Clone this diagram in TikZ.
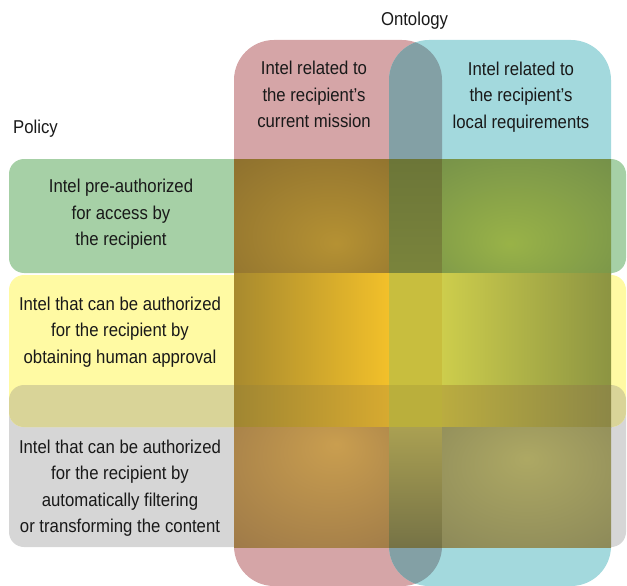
\documentclass[tikz,border=0pt]{standalone}
\usepackage{fontspec}
\setmainfont[FakeStretch=0.9]{Liberation Sans}
\definecolor{colred}{RGB}{213,165,167}
\definecolor{colteal}{RGB}{163,217,221}
\definecolor{colRT}{RGB}{131,160,165}
\definecolor{colgreen}{RGB}{166,208,166}
\definecolor{colyellow}{RGB}{255,250,163}
\definecolor{colgray}{RGB}{214,214,214}
\definecolor{colYG}{RGB}{217,212,152}
\definecolor{txt}{RGB}{25,25,25}
\definecolor{cBGt}{RGB}{108,118,56}
\definecolor{cBGb}{RGB}{122,132,60}
\definecolor{cAYl}{RGB}{168,138,46}
\definecolor{cAYr}{RGB}{242,192,42}
\definecolor{cBY}{RGB}{200,190,62}
\definecolor{cCYl}{RGB}{205,205,76}
\definecolor{cCYr}{RGB}{140,148,66}
\definecolor{cAYGl}{RGB}{160,134,50}
\definecolor{cAYGr}{RGB}{215,170,48}
\definecolor{cBYG}{RGB}{186,175,60}
\definecolor{cCYGl}{RGB}{186,172,64}
\definecolor{cCYGr}{RGB}{140,135,70}
\definecolor{cBGrt}{RGB}{170,160,82}
\definecolor{cBGrb}{RGB}{118,115,70}
% radial shadings for overlap cells
\pgfdeclareradialshading{shAG}{\pgfpoint{8bp}{-12bp}}{rgb(0bp)=(0.71,0.57,0.20); rgb(50bp)=(0.53,0.42,0.18); rgb(80bp)=(0.51,0.40,0.17)}
\pgfdeclareradialshading{shCG}{\pgfpoint{-5bp}{-12bp}}{rgb(0bp)=(0.60,0.70,0.28); rgb(50bp)=(0.43,0.54,0.29); rgb(80bp)=(0.41,0.52,0.29)}
\pgfdeclareradialshading{shAGr}{\pgfpoint{8bp}{18bp}}{rgb(0bp)=(0.79,0.62,0.31); rgb(50bp)=(0.60,0.46,0.28); rgb(80bp)=(0.57,0.44,0.27)}
\pgfdeclareradialshading{shCGr}{\pgfpoint{0bp}{12bp}}{rgb(0bp)=(0.68,0.66,0.39); rgb(50bp)=(0.52,0.51,0.34); rgb(80bp)=(0.50,0.49,0.33)}
\tikzset{
  col/.style={rounded corners=40pt},
  bar/.style={rounded corners=15pt},
  lbl/.style={text=txt, align=center, inner sep=0pt, font=\fontsize{18.6}{26.5}\selectfont},
}
\begin{document}
\begin{tikzpicture}[x=1pt,y=-1pt]
\useasboundingbox (0,0) rectangle (627,586);
% columns
\fill[colred, col] (234,40) rectangle (442,586);
\fill[colteal, col] (389,40) rectangle (611,586);
\begin{scope}
  \clip[col] (234,40) rectangle (442,586);
  \fill[colRT, col] (389,40) rectangle (611,586);
\end{scope}
% bars
\fill[colgreen, bar] (9,159) rectangle (626,273);
\fill[colgray, bar] (9,385) rectangle (626,547);
\fill[colyellow, bar] (9,275) rectangle (626,427);
\begin{scope}
  \clip[bar] (9,275) rectangle (626,427);
  \fill[colYG, bar] (9,385) rectangle (626,547);
\end{scope}
% overlap cells: green row
\shade[shading=shAG] (234,159) rectangle (389,273.5);
\shade[top color=cBGt, bottom color=cBGb] (389,159) rectangle (442,273.5);
\shade[shading=shCG] (442,159) rectangle (611,273.5);
% yellow row
\shade[left color=cAYl, right color=cAYr] (234,273) rectangle (389,385);
\fill[cBY] (389,273) rectangle (442,385);
\shade[left color=cCYl, right color=cCYr] (442,273) rectangle (611,385);
% yellow-gray row
\shade[left color=cAYGl, right color=cAYGr] (234,385) rectangle (389,427);
\fill[cBYG] (389,385) rectangle (442,427);
\shade[left color=cCYGl, right color=cCYGr] (442,385) rectangle (611,427);
% gray row
\shade[shading=shAGr] (234,427) rectangle (389,547);
\shade[top color=cBGrt, bottom color=cBGrb] (389,427) rectangle (442,547);
\shade[shading=shCGr] (442,427) rectangle (611,547);
% labels
\node[lbl, anchor=base] (onto) at (414.5,26) {Ontology};
\node[lbl, anchor=base west] (pol) at (13,133) {Policy};
\node[lbl] (mission) at (314,94.8) {Intel related to\\the recipient's\\current mission};
\node[lbl] (local) at (521,96.7) {Intel related to\\the recipient's\\local requirements};
\node[lbl] (pre) at (121,214.2) {Intel pre-authorized\\for access by\\the recipient};
\node[lbl] (human) at (120,332) {Intel that can be authorized\\for the recipient by\\obtaining human approval};
\node[lbl] (auto) at (120,488) {Intel that can be authorized\\for the recipient by\\automatically filtering\\or transforming the content};
\end{tikzpicture}
\end{document}
